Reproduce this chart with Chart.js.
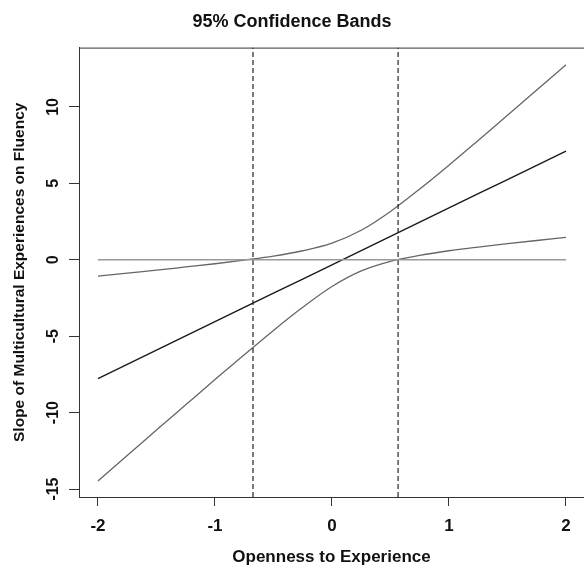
<!DOCTYPE html>
<html>
<head>
<meta charset="utf-8">
<script src="https://cdn.jsdelivr.net/npm/chart.js@4.4.1/dist/chart.umd.min.js"></script>
<style>
  html, body { margin: 0; padding: 0; background: #fff; overflow: hidden; }
  #wrap { width: 584px; height: 570px; }
</style>
</head>
<body>
<div id="wrap"><canvas id="bandChart"></canvas></div>
<script>
// moderator values (x) and the simple slope with its 95% band
const xVals = [-2, -1.75, -1.5, -1.25, -1, -0.75, -0.5, -0.25, 0, 0.25, 0.5, 0.75, 1, 1.25, 1.5, 1.75, 2];
const slope = [-7.77, -6.84, -5.91, -4.98, -4.05, -3.12, -2.19, -1.26, -0.33, 0.60, 1.53, 2.46, 3.39, 4.32, 5.25, 6.18, 7.11];
const upper = [-1.07, -0.87, -0.68, -0.47, -0.26, -0.02, 0.24, 0.59, 1.09, 1.93, 3.16, 4.63, 6.19, 7.81, 9.45, 11.10, 12.76];
const lower = [-14.47, -12.81, -11.14, -9.49, -7.84, -6.22, -4.62, -3.11, -1.75, -0.73, -0.10, 0.29, 0.59, 0.83, 1.05, 1.26, 1.46];

// Johnson-Neyman boundaries (dashed verticals)
const jnPoints = [-0.675, 0.565];

const xTicks = [-2, -1, 0, 1, 2];
const yTicks = [-15, -10, -5, 0, 5, 10];

const xMin = -2.162, xMax = 2.154;
const yMin = -15.52, yMax = 13.88;

const toPts = ys => xVals.map((x, i) => ({ x: x, y: ys[i] }));

const axisColor = '#333';
const boldFont = 'Liberation Sans, Arial, sans-serif';

// top edge of the box + rotated y tick labels (R style)
const rBox = {
    id: 'rBox',
    afterDraw(chart) {
        const { ctx, chartArea } = chart;
        const y = chart.scales.y;
        ctx.save();
        ctx.strokeStyle = axisColor;
        ctx.lineWidth = 1;
        ctx.beginPath();
        ctx.moveTo(chartArea.left, chartArea.top + 0.5);
        ctx.lineTo(chartArea.right, chartArea.top + 0.5);
        ctx.stroke();

        ctx.fillStyle = '#111';
        ctx.font = 'bold 16px ' + boldFont;
        ctx.textAlign = 'center';
        ctx.textBaseline = 'middle';
        yTicks.forEach(v => {
            const py = y.getPixelForValue(v);
            ctx.save();
            ctx.translate(54, py);
            ctx.rotate(-Math.PI / 2);
            ctx.fillText(String(v), 0, 0);
            ctx.restore();
        });
        ctx.restore();
    }
};

const jnSets = jnPoints.map(x => ({
    data: [{ x: x, y: yMin }, { x: x, y: yMax }],
    borderColor: '#222',
    borderWidth: 1.2,
    borderDash: [5, 3],
    pointRadius: 0
}));

new Chart(document.getElementById('bandChart'), {
    type: 'line',
    data: {
        datasets: [
            {
                data: [{ x: xVals[0], y: 0 }, { x: xVals[xVals.length - 1], y: 0 }],
                borderColor: '#9a9a9a',
                borderWidth: 1.3,
                pointRadius: 0
            },
            ...jnSets,
            {
                data: toPts(upper),
                borderColor: '#666',
                borderWidth: 1.3,
                pointRadius: 0,
                tension: 0.4,
                cubicInterpolationMode: 'monotone'
            },
            {
                data: toPts(lower),
                borderColor: '#666',
                borderWidth: 1.3,
                pointRadius: 0,
                tension: 0.4,
                cubicInterpolationMode: 'monotone'
            },
            {
                data: toPts(slope),
                borderColor: '#1a1a1a',
                borderWidth: 1.4,
                pointRadius: 0
            }
        ]
    },
    options: {
        responsive: true,
        maintainAspectRatio: false,
        animation: false,
        layout: { padding: { left: 0, right: 0, top: 0, bottom: 0 } },
        plugins: {
            legend: { display: false },
            tooltip: { enabled: false },
            title: {
                display: true,
                text: '95% Confidence Bands',
                color: '#111',
                font: { family: boldFont, size: 18, weight: 'bold' },
                padding: { top: 11, bottom: 15 }
            }
        },
        scales: {
            x: {
                type: 'linear',
                min: xMin,
                max: xMax,
                afterFit(s) { s.height = 73; },
                afterBuildTicks(s) { s.ticks = xTicks.map(v => ({ value: v })); },
                border: { display: true, color: axisColor, width: 1 },
                grid: { display: true, drawOnChartArea: false, drawTicks: true, tickLength: 9, color: axisColor },
                ticks: {
                    color: '#111',
                    padding: 10,
                    maxRotation: 0,
                    font: { family: boldFont, size: 17, weight: 'bold' }
                },
                title: {
                    display: true,
                    text: 'Openness to Experience',
                    color: '#111',
                    font: { family: boldFont, size: 17, weight: 'bold' },
                    padding: { top: 0, bottom: 2 }
                }
            },
            y: {
                type: 'linear',
                min: yMin,
                max: yMax,
                afterFit(s) { s.width = 79; },
                afterBuildTicks(s) { s.ticks = yTicks.map(v => ({ value: v })); },
                border: { display: true, color: axisColor, width: 1 },
                grid: { display: true, drawOnChartArea: false, drawTicks: true, tickLength: 10, color: axisColor },
                ticks: { display: false },
                title: {
                    display: true,
                    text: 'Slope of Multicultural Experiences on Fluency',
                    color: '#111',
                    font: { family: boldFont, size: 15.5, weight: 'bold' },
                    padding: { top: 10, bottom: 0 }
                }
            }
        }
    },
    plugins: [rBox]
});
</script>
</body>
</html>
